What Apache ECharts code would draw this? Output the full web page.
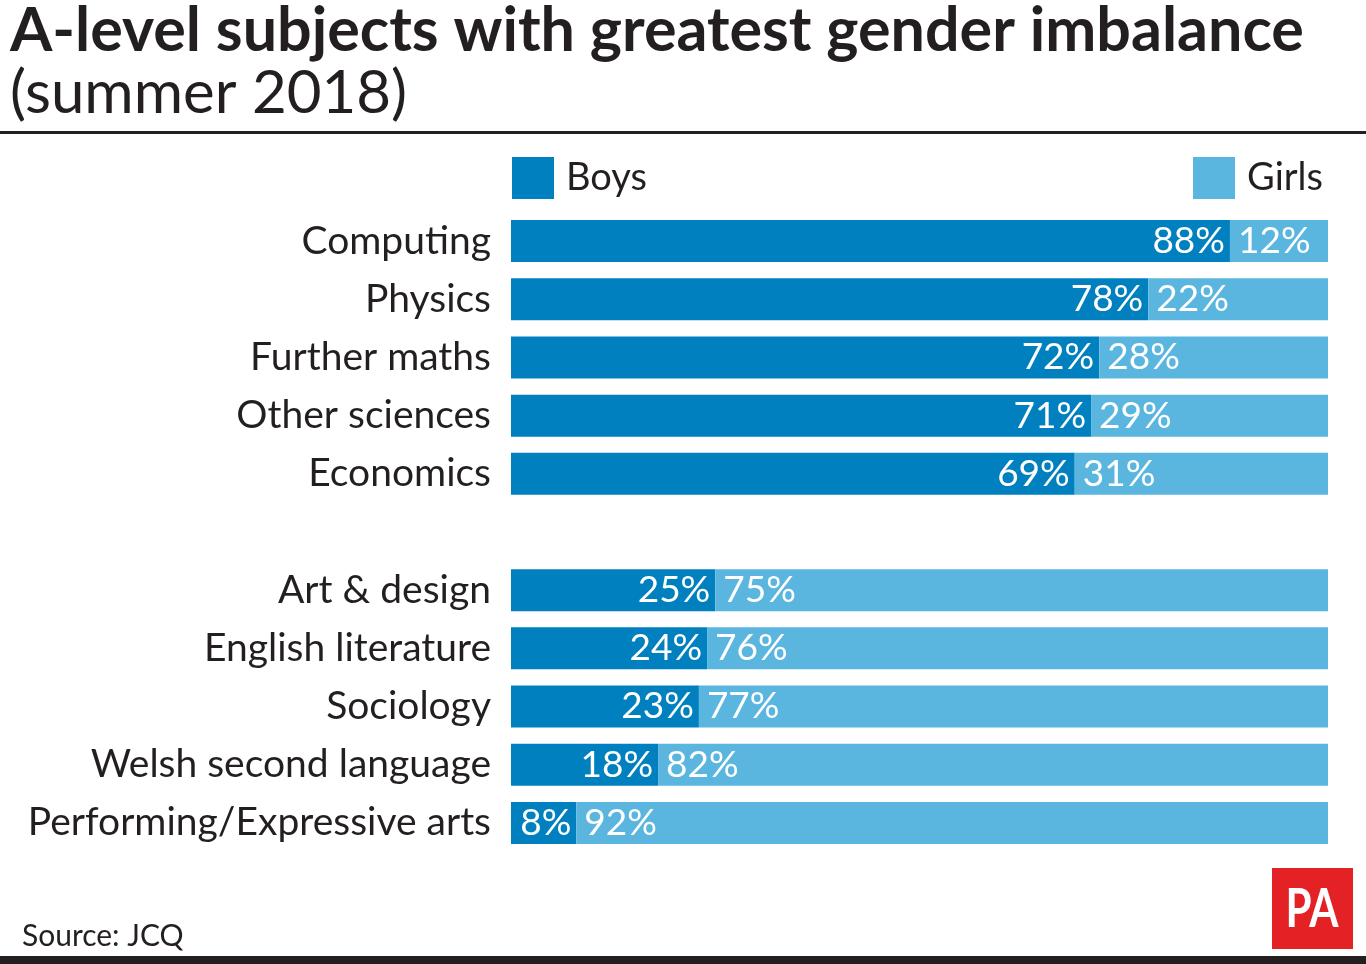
<!DOCTYPE html>
<html>
<head>
<meta charset="utf-8">
<script src="https://cdn.jsdelivr.net/npm/echarts@6/dist/echarts.min.js"></script>
<style>html,body{margin:0;padding:0;background:#fff;}#chart{width:1366px;height:964px;}</style>
</head>
<body>
<div id="chart"></div>
<script>
var categories = ['Computing', 'Physics', 'Further maths', 'Other sciences', 'Economics', '', 'Art & design', 'English literature', 'Sociology', 'Welsh second language', 'Performing/Expressive arts'];
var boys = [88, 78, 72, 71, 69, null, 25, 24, 23, 18, 8];
var girls = [12, 22, 28, 29, 31, null, 75, 76, 77, 82, 92];
var seriesNames = ['Boys', 'Girls'];

var FONT = 'Lato';
var TEXT = '#231f20';
var chart = echarts.init(document.getElementById('chart'));
chart.setOption({
  backgroundColor: '#ffffff',
  animation: false,
  textStyle: { fontFamily: FONT },
  grid: { left: 511, right: 38, top: 212, height: 640, containLabel: false },
  legend: [
    { data: [seriesNames[0]], left: 512, top: 157, padding: 0, itemWidth: 42, itemHeight: 42, icon: 'rect',
      textStyle: { fontFamily: FONT, fontSize: 38, color: TEXT, padding: [0, 0, 0, 7] } },
    { data: [seriesNames[1]], right: 43, top: 157, padding: 0, itemWidth: 42, itemHeight: 42, icon: 'rect',
      textStyle: { fontFamily: FONT, fontSize: 38, color: TEXT, padding: [0, 0, 0, 7] } }
  ],
  xAxis: { type: 'value', min: 0, max: 100, show: false },
  yAxis: {
    type: 'category', data: categories, inverse: true,
    axisLine: { show: false }, axisTick: { show: false },
    axisLabel: { fontFamily: FONT, fontSize: 39, color: TEXT, margin: 20 }
  },
  series: [
    { name: seriesNames[0], type: 'bar', stack: 'a', data: boys, barWidth: 42,
      itemStyle: { color: '#0080bf' },
      label: { show: true, position: 'insideRight', distance: 5, formatter: '{c}%', color: '#fff', fontFamily: FONT, fontSize: 37 } },
    { name: seriesNames[1], type: 'bar', stack: 'a', data: girls, barWidth: 42,
      itemStyle: { color: '#5bb6df' },
      label: { show: true, position: 'insideLeft', distance: 8, formatter: '{c}%', color: '#fff', fontFamily: FONT, fontSize: 37 } }
  ],
  graphic: [
    { type: 'text', left: 10, top: 1, style: { text: 'A-level subjects with greatest gender imbalance', fontFamily: FONT, fontWeight: 'bold', fontSize: 61, fill: TEXT } },
    { type: 'text', left: 10, top: 64, style: { text: '(summer 2018)', fontFamily: FONT, fontSize: 60, fill: TEXT } },
    { type: 'rect', shape: { x: 0, y: 131, width: 1366, height: 3 }, style: { fill: '#231f20' } },
    { type: 'text', left: 22, top: 921, style: { text: 'Source: JCQ', fontFamily: FONT, fontSize: 30, fill: TEXT } },
    { type: 'rect', shape: { x: 0, y: 956, width: 1366, height: 8 }, style: { fill: '#231f20' } },
    { type: 'rect', shape: { x: 1272, y: 868, width: 81, height: 81 }, style: { fill: '#e42125' } },
    { type: 'text', x: 1312, y: 910, scaleX: 0.78, style: { text: 'PA', fontFamily: FONT, fontWeight: 'bold', fontSize: 54, fill: '#fff', align: 'center', verticalAlign: 'middle' } }
  ]
});
</script>
</body>
</html>
